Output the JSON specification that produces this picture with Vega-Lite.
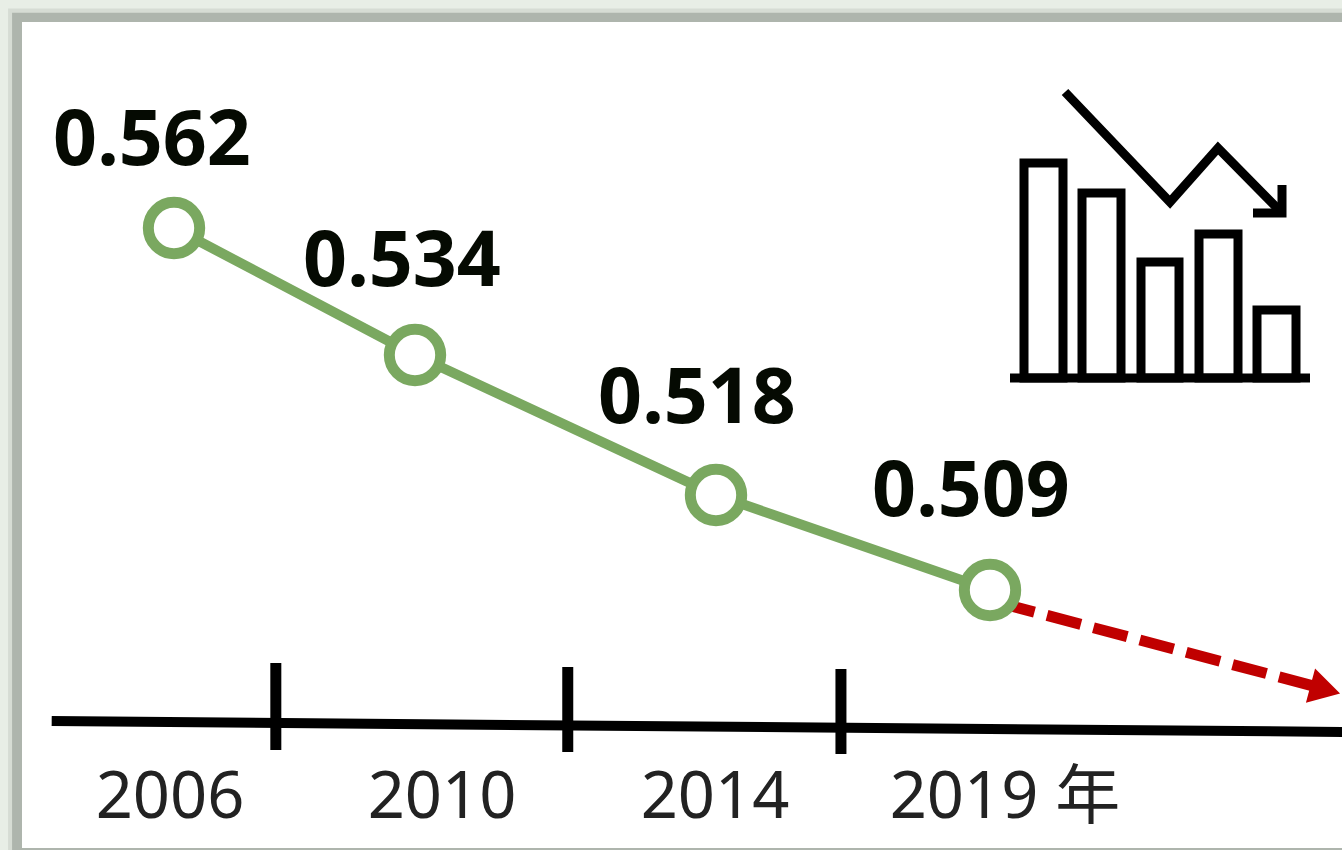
{
  "$schema": "https://vega.github.io/schema/vega-lite/v6.json",
  "width": 1342,
  "height": 850,
  "padding": 0,
  "autosize": {"type": "none"},
  "background": "#e8eee6",
  "config": {"view": {"stroke": null}},
  "datasets": {
    "sheet": [
      {"part": "shadow", "left": 0.6, "right": 100, "top": 1.0, "bottom": 100},
      {"part": "edge", "left": 0.9, "right": 100, "top": 1.5, "bottom": 100},
      {"part": "paper", "left": 1.64, "right": 100, "top": 2.6, "bottom": 99.75}
    ],
    "readings": [
      {"year": 2006, "value": 0.562},
      {"year": 2010, "value": 0.534},
      {"year": 2014, "value": 0.518},
      {"year": 2019, "value": 0.509}
    ],
    "outlook": [
      {"year": 2019, "value": 0.5081},
      {"year": 2023.69, "value": 0.5005}
    ],
    "outlookHead": [
      {"year": 2023.79, "value": 0.5003}
    ],
    "timelineBase": [
      {"year": 2003.97, "level": 0},
      {"year": 2024.03, "level": 0.113}
    ],
    "timelineTicks": [
      {"year": 2007.69, "from": -0.598, "to": 0.299},
      {"year": 2012.03, "from": -0.557, "to": 0.32},
      {"year": 2016.28, "from": -0.536, "to": 0.34}
    ],
    "timelineLabels": [
      {"year": 2006, "level": 1, "label": "2006"},
      {"year": 2010, "level": 1, "label": "2010"},
      {"year": 2014, "level": 1, "label": "2014"},
      {"year": 2019, "level": 1, "label": "2019 年"}
    ],
    "iconBars": [
      {"a": 14, "b": 53, "h": 215},
      {"a": 72, "b": 111, "h": 185},
      {"a": 131, "b": 169, "h": 116},
      {"a": 189, "b": 228, "h": 144},
      {"a": 247, "b": 286, "h": 68}
    ],
    "iconLines": [
      {"stroke": "trend", "i": 1, "u": 55, "v": 286},
      {"stroke": "trend", "i": 2, "u": 160, "v": 176},
      {"stroke": "trend", "i": 3, "u": 208, "v": 230},
      {"stroke": "trend", "i": 4, "u": 272, "v": 165},
      {"stroke": "head", "i": 1, "u": 243, "v": 165},
      {"stroke": "head", "i": 2, "u": 272, "v": 165},
      {"stroke": "head", "i": 3, "u": 272, "v": 193},
      {"stroke": "floor", "i": 1, "u": 0, "v": 0},
      {"stroke": "floor", "i": 2, "u": 300, "v": 0}
    ]
  },
  "resolve": {"scale": {"x": "independent", "y": "independent", "color": "independent"}},
  "layer": [
    {
      "data": {"name": "sheet"},
      "mark": {"type": "rect"},
      "encoding": {
        "x": {"field": "left", "type": "quantitative", "axis": null, "scale": {"domain": [0, 100], "range": [0, 1342], "nice": false, "zero": false}},
        "x2": {"field": "right"},
        "y": {"field": "top", "type": "quantitative", "axis": null, "scale": {"domain": [0, 100], "range": [0, 850], "nice": false, "zero": false}},
        "y2": {"field": "bottom"},
        "color": {"field": "part", "type": "nominal", "legend": null, "sort": null, "scale": {"domain": ["shadow", "edge", "paper"], "range": ["#d6dcd4", "#aeb5ad", "#ffffff"]}}
      }
    },
    {
      "encoding": {
        "x": {"field": "year", "type": "quantitative", "axis": null, "scale": {"domain": [2000, 2006, 2010, 2014, 2019, 2025], "range": [-187.5, 174, 415, 716, 990, 1410], "nice": false, "zero": false}},
        "y": {"field": "value", "type": "quantitative", "axis": null, "scale": {"domain": [0.49, 0.5, 0.509, 0.518, 0.534, 0.562], "range": [807, 693, 590, 495, 355, 228], "nice": false, "zero": false}}
      },
      "layer": [
        {
          "data": {"name": "outlook"},
          "mark": {"type": "line", "color": "#c00000", "strokeWidth": 11, "strokeDash": [35, 13], "strokeDashOffset": 37}
        },
        {
          "data": {"name": "outlookHead"},
          "mark": {"type": "point", "shape": "triangle-right", "filled": true, "color": "#c00000", "opacity": 1, "size": 1250, "angle": 15}
        },
        {
          "data": {"name": "readings"},
          "mark": {"type": "line", "color": "#7aa860", "strokeWidth": 10}
        },
        {
          "data": {"name": "readings"},
          "mark": {"type": "point", "shape": "circle", "filled": true, "fill": "#ffffff", "stroke": "#7aa860", "strokeWidth": 11, "opacity": 1, "size": 2640}
        },
        {
          "data": {"name": "readings"},
          "transform": [{"filter": "datum.year === 2006"}],
          "mark": {"type": "text", "font": "Noto Sans", "fontWeight": "bold", "fontSize": 77, "color": "#050a02", "baseline": "alphabetic", "align": "center", "dx": -22, "dy": -63},
          "encoding": {"text": {"field": "value", "type": "quantitative", "format": ".3f"}}
        },
        {
          "data": {"name": "readings"},
          "transform": [{"filter": "datum.year === 2010"}],
          "mark": {"type": "text", "font": "Noto Sans", "fontWeight": "bold", "fontSize": 77, "color": "#050a02", "baseline": "alphabetic", "align": "center", "dx": -13, "dy": -69},
          "encoding": {"text": {"field": "value", "type": "quantitative", "format": ".3f"}}
        },
        {
          "data": {"name": "readings"},
          "transform": [{"filter": "datum.year === 2014"}],
          "mark": {"type": "text", "font": "Noto Sans", "fontWeight": "bold", "fontSize": 77, "color": "#050a02", "baseline": "alphabetic", "align": "center", "dx": -19, "dy": -72},
          "encoding": {"text": {"field": "value", "type": "quantitative", "format": ".3f"}}
        },
        {
          "data": {"name": "readings"},
          "transform": [{"filter": "datum.year === 2019"}],
          "mark": {"type": "text", "font": "Noto Sans", "fontWeight": "bold", "fontSize": 77, "color": "#050a02", "baseline": "alphabetic", "align": "center", "dx": -19, "dy": -74},
          "encoding": {"text": {"field": "value", "type": "quantitative", "format": ".3f"}}
        }
      ]
    },
    {
      "encoding": {
        "x": {"field": "year", "type": "quantitative", "axis": null, "scale": {"domain": [2000, 2006, 2010, 2014, 2019, 2025], "range": [-187.5, 174, 415, 716, 990, 1410], "nice": false, "zero": false}},
        "y": {"field": "level", "type": "quantitative", "axis": null, "scale": {"domain": [0, 1], "range": [721, 818], "nice": false, "zero": false}}
      },
      "layer": [
        {
          "data": {"name": "timelineBase"},
          "mark": {"type": "line", "color": "#000000", "strokeWidth": 10}
        },
        {
          "data": {"name": "timelineTicks"},
          "mark": {"type": "rule", "color": "#000000", "strokeWidth": 11},
          "encoding": {
            "y": {"field": "from", "type": "quantitative", "axis": null, "scale": {"domain": [0, 1], "range": [721, 818], "nice": false, "zero": false}},
            "y2": {"field": "to"}
          }
        },
        {
          "data": {"name": "timelineLabels"},
          "transform": [{"filter": "datum.year === 2006"}],
          "mark": {"type": "text", "font": "Noto Sans, Noto Sans CJK SC", "fontSize": 65, "color": "#222222", "baseline": "alphabetic", "align": "center", "dx": -4},
          "encoding": {"text": {"field": "label", "type": "nominal"}}
        },
        {
          "data": {"name": "timelineLabels"},
          "transform": [{"filter": "datum.year === 2010"}],
          "mark": {"type": "text", "font": "Noto Sans, Noto Sans CJK SC", "fontSize": 65, "color": "#222222", "baseline": "alphabetic", "align": "center", "dx": 27},
          "encoding": {"text": {"field": "label", "type": "nominal"}}
        },
        {
          "data": {"name": "timelineLabels"},
          "transform": [{"filter": "datum.year === 2014"}],
          "mark": {"type": "text", "font": "Noto Sans, Noto Sans CJK SC", "fontSize": 65, "color": "#222222", "baseline": "alphabetic", "align": "center", "dx": -1},
          "encoding": {"text": {"field": "label", "type": "nominal"}}
        },
        {
          "data": {"name": "timelineLabels"},
          "transform": [{"filter": "datum.year === 2019"}],
          "mark": {"type": "text", "font": "Noto Sans, Noto Sans CJK SC", "fontSize": 65, "color": "#222222", "baseline": "alphabetic", "align": "center", "dx": 15},
          "encoding": {"text": {"field": "label", "type": "nominal"}}
        }
      ]
    },
    {
      "layer": [
        {
          "data": {"name": "iconBars"},
          "mark": {"type": "rect", "fill": "#ffffff", "stroke": "#000000", "strokeWidth": 9},
          "encoding": {
            "x": {"field": "a", "type": "quantitative", "axis": null, "scale": {"domain": [0, 300], "range": [1010, 1310], "nice": false, "zero": false}},
            "x2": {"field": "b"},
            "y": {"field": "h", "type": "quantitative", "axis": null, "scale": {"domain": [0, 300], "range": [378, 78], "nice": false, "zero": false}},
            "y2": {"datum": 0}
          }
        },
        {
          "data": {"name": "iconLines"},
          "mark": {"type": "line", "color": "#000000", "strokeWidth": 9, "strokeJoin": "miter", "strokeCap": "butt"},
          "encoding": {
            "x": {"field": "u", "type": "quantitative", "axis": null, "scale": {"domain": [0, 300], "range": [1010, 1310], "nice": false, "zero": false}},
            "y": {"field": "v", "type": "quantitative", "axis": null, "scale": {"domain": [0, 300], "range": [378, 78], "nice": false, "zero": false}},
            "detail": {"field": "stroke", "type": "nominal"},
            "order": {"field": "i", "type": "quantitative"}
          }
        }
      ]
    }
  ]
}
